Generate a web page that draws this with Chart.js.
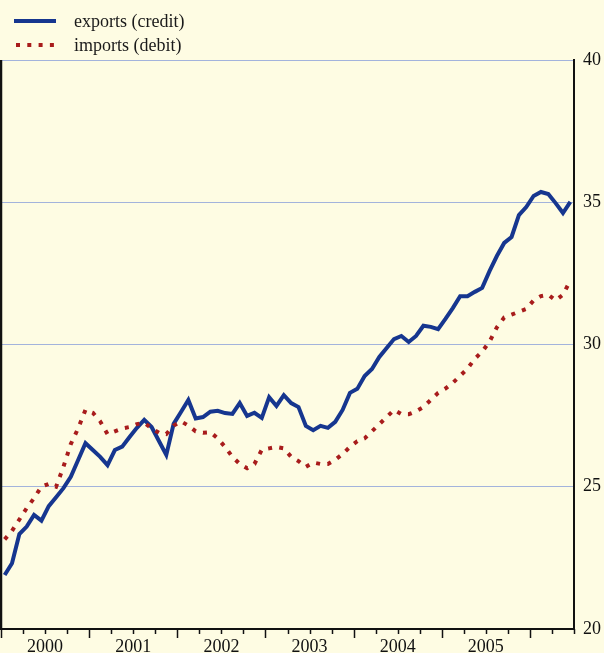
<!DOCTYPE html>
<html>
<head>
<meta charset="utf-8">
<script src="https://cdn.jsdelivr.net/npm/chart.js@4.4.1/dist/chart.umd.min.js"></script>
<style>
  html, body { margin: 0; padding: 0; background: #fefce3; }
  #wrap { position: relative; width: 604px; height: 653px; }
  #legend { position: absolute; left: 0; top: 0; font: 18px 'Liberation Serif', 'Times New Roman', serif; color: #1a1a1a; }
  .item { position: absolute; white-space: nowrap; }
  .item svg { position: absolute; left: 14px; }
  .item span { position: absolute; left: 74px; }
</style>
</head>
<body>
<div id="wrap">
  <canvas id="tradeChart" width="604" height="653"></canvas>
  <div id="legend">
    <div class="item" style="top:11px">
      <svg width="44" height="8" style="top:6px"><line x1="0" y1="4" x2="42" y2="4" stroke="#16368f" stroke-width="4"/></svg>
      <span>exports&nbsp;(credit)</span>
    </div>
    <div class="item" style="top:35px">
      <svg width="44" height="8" style="top:6px"><line x1="2" y1="4" x2="42" y2="4" stroke="#a81c1c" stroke-width="4" stroke-dasharray="4 7.3"/></svg>
      <span>imports&nbsp;(debit)</span>
    </div>
  </div>
</div>
<script>
// monthly series, January 2000 to June 2006
const years = ['2000', '2001', '2002', '2003', '2004', '2005'];

const exportsCredit = [
  21.90, 22.31, 23.34, 23.60, 24.01, 23.81, 24.32, 24.63, 24.95, 25.35, 25.94, 26.53,
  26.29, 26.05, 25.76, 26.29, 26.41, 26.75, 27.07, 27.35, 27.10, 26.61, 26.12, 27.21,
  27.63, 28.05, 27.40, 27.45, 27.64, 27.67, 27.59, 27.56, 27.94, 27.49, 27.60, 27.42,
  28.15, 27.84, 28.22, 27.94, 27.80, 27.14, 26.99, 27.14, 27.07, 27.28, 27.70, 28.30,
  28.44, 28.89, 29.14, 29.56, 29.88, 30.19, 30.30, 30.09, 30.30, 30.66, 30.62, 30.54,
  30.90, 31.28, 31.70, 31.70, 31.85, 31.99, 32.58, 33.11, 33.57, 33.78, 34.55, 34.83,
  35.22, 35.36, 35.29, 34.97, 34.62, 35.01
];

const importsDebit = [
  23.15, 23.45, 23.85, 24.25, 24.60, 25.00, 25.10, 25.00, 25.70, 26.50, 27.05, 27.70,
  27.60, 27.30, 26.85, 26.95, 27.05, 27.10, 27.20, 27.25, 27.05, 26.90, 26.85, 27.15,
  27.30, 27.15, 26.95, 26.90, 26.92, 26.70, 26.40, 26.05, 25.80, 25.65, 25.80, 26.30,
  26.35, 26.40, 26.35, 26.05, 25.90, 25.70, 25.85, 25.80, 25.80, 25.95, 26.15, 26.40,
  26.60, 26.70, 26.95, 27.20, 27.45, 27.70, 27.55, 27.55, 27.65, 27.80, 28.05, 28.30,
  28.45, 28.65, 28.90, 29.15, 29.50, 29.75, 30.10, 30.60, 30.95, 31.05, 31.15, 31.25,
  31.55, 31.70, 31.75, 31.55, 31.75, 32.25
];

const yTicks = [20, 25, 30, 35, 40];

const MONTHS = 78;
const INK = '#111111';
const SERIF = "'Liberation Serif', 'Times New Roman', serif";

// points sit in the middle of their month
const toPoints = values => values.map((v, i) => ({ x: i + 0.5, y: v }));

// quarter ticks under the time axis, longer at each new year, plus the left frame
const frameAndTicks = {
  id: 'frameAndTicks',
  afterDraw(chart) {
    const { ctx, chartArea, scales } = chart;
    ctx.save();
    ctx.strokeStyle = INK;
    ctx.lineWidth = 1.5;
    for (let m = 0; m <= MONTHS; m += 3) {
      const x = Math.round(scales.x.getPixelForValue(m)) + 0.5;
      const len = m % 12 === 0 ? 9 : 5;
      ctx.beginPath();
      ctx.moveTo(x, chartArea.bottom);
      ctx.lineTo(x, chartArea.bottom + len);
      ctx.stroke();
    }
    ctx.lineWidth = 2.5;
    ctx.beginPath();
    ctx.moveTo(chartArea.left, chartArea.top);
    ctx.lineTo(chartArea.left, chartArea.bottom);
    ctx.stroke();
    ctx.restore();
  }
};

document.addEventListener('DOMContentLoaded', function() {
  const ctx = document.getElementById('tradeChart').getContext('2d');
  new Chart(ctx, {
    type: 'line',
    data: {
      datasets: [
        {
          label: 'imports (debit)',
          data: toPoints(importsDebit),
          borderColor: '#a81c1c',
          borderWidth: 4,
          borderDash: [4, 7.3],
          borderCapStyle: 'butt',
          pointRadius: 0,
          tension: 0
        },
        {
          label: 'exports (credit)',
          data: toPoints(exportsCredit),
          borderColor: '#16368f',
          borderWidth: 4,
          borderJoinStyle: 'miter',
          pointRadius: 0,
          tension: 0
        }
      ]
    },
    options: {
      responsive: false,
      animation: false,
      layout: { padding: { top: 60, right: 0, left: 1, bottom: 0 } },
      plugins: {
        legend: { display: false },
        tooltip: { enabled: false }
      },
      scales: {
        x: {
          type: 'linear',
          min: 0,
          max: MONTHS,
          grid: { display: false, drawTicks: false },
          border: { display: true, color: INK, width: 2 },
          afterBuildTicks: axis => {
            axis.ticks = years.map((y, i) => ({ value: i * 12 + 6 }));
          },
          afterFit: axis => { axis.height = 24; },
          ticks: {
            autoSkip: false,
            maxRotation: 0,
            padding: 7,
            color: INK,
            font: { family: SERIF, size: 18 },
            callback: value => years[(value - 6) / 12]
          }
        },
        y: {
          position: 'right',
          min: 20,
          max: 40,
          afterBuildTicks: axis => {
            axis.ticks = yTicks.map(v => ({ value: v }));
          },
          afterFit: axis => { axis.width = 30; },
          grid: { color: '#a3b3dc', lineWidth: 1, drawTicks: false },
          border: { display: true, color: INK, width: 2 },
          ticks: {
            padding: 9,
            color: INK,
            font: { family: SERIF, size: 18 }
          }
        }
      }
    },
    plugins: [frameAndTicks]
  });
});
</script>
</body>
</html>
